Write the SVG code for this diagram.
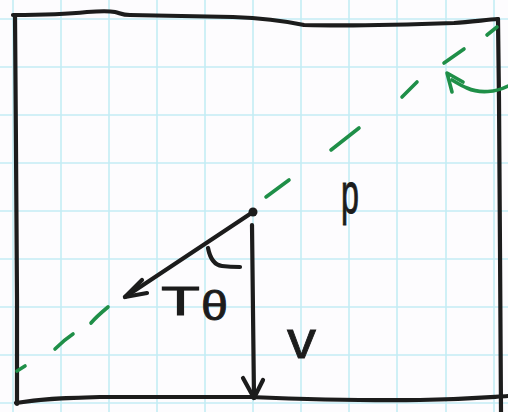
<svg xmlns="http://www.w3.org/2000/svg" width="508" height="412" viewBox="0 0 508 412">
<style>
.grid line{stroke:#c3edf4;stroke-width:1.6}
.ink{fill:none;stroke:#1c1c1c;stroke-width:4.2;stroke-linecap:round;stroke-linejoin:round}
.green{fill:none;stroke:#1f8f48;stroke-width:3.6;stroke-linecap:round;stroke-linejoin:round}
.lbl{font-family:"Liberation Sans","DejaVu Sans",sans-serif;fill:#1c1c1c;stroke:#1c1c1c;stroke-width:0.8}
</style>
<rect width="508" height="412" fill="#fdfcfe"/>
<g id="grid" class="grid">
<line x1="13" y1="0" x2="13" y2="412"/><line x1="61" y1="0" x2="61" y2="412"/><line x1="109" y1="0" x2="109" y2="412"/><line x1="157" y1="0" x2="157" y2="412"/><line x1="205" y1="0" x2="205" y2="412"/><line x1="253" y1="0" x2="253" y2="412"/><line x1="301" y1="0" x2="301" y2="412"/><line x1="349" y1="0" x2="349" y2="412"/><line x1="397" y1="0" x2="397" y2="412"/><line x1="446" y1="0" x2="446" y2="412"/><line x1="494" y1="0" x2="494" y2="412"/>
<line x1="0" y1="19" x2="508" y2="19"/><line x1="0" y1="67" x2="508" y2="67"/><line x1="0" y1="115" x2="508" y2="115"/><line x1="0" y1="163" x2="508" y2="163"/><line x1="0" y1="211" x2="508" y2="211"/><line x1="0" y1="259" x2="508" y2="259"/><line x1="0" y1="307" x2="508" y2="307"/><line x1="0" y1="355" x2="508" y2="355"/><line x1="0" y1="403" x2="508" y2="403"/>
</g>
<g id="frame" class="ink">
<path d="M13,15 C35,15 60,15 87,12 C100,11 110,11 115,12 C120,13 122,15 130,15 L233,17 C260,18 280,20 304,25 C340,26 400,25 454,23 C470,22 485,20 498,19"/>
<path d="M498,19 L499,100 L500,250 L501,412"/>
<path d="M15,15 L16,150 L17,300 L17,404"/>
<path d="M16,403 C40,399 60,398 100,397 L250,397 C300,399 350,401 420,400 C470,399 490,397 508,396"/>
</g>
<g id="dashed-line" class="green">
<path d="M17,371 L25,366"/>
<path d="M55,349 C60,344 67,338 73,334"/>
<path d="M91,323 C96,317 102,312 108,307"/>
<path d="M266,197 L289,180"/>
<path d="M331,150 L359,128"/>
<path d="M402,97 L417,82"/>
<path d="M444,63 L464,49"/>
<path d="M487,35 L497,27"/>
</g>
<g id="green-arrow" class="green">
<path d="M508,86 C496,92 480,94 467,88 C462,86 457,83 452,80"/>
<path d="M452,92 L447,73 L463,82"/>
</g>
<g id="connectors" class="ink">
<path d="M253,212 L125,297"/>
<path d="M142,280 L125,297 L147,293"/>
<path d="M252,225 L254,398"/>
<path d="M243,378 L254,398 L263,380"/>
<path d="M208,248 C210,258 214,265 222,266 C230,267 236,267 240,267"/>
</g>
<circle id="point" cx="253" cy="212" r="4.5" fill="#1c1c1c"/>
<g id="labels">
<text class="lbl" x="161" y="315" font-size="40" textLength="39" lengthAdjust="spacingAndGlyphs">T</text>
<text class="lbl" x="201" y="320" font-size="40" textLength="27" lengthAdjust="spacingAndGlyphs">θ</text>
<text class="lbl" transform="translate(341,213) scale(0.7,1.25)" font-size="46">p</text>
<text class="lbl" x="287" y="358" font-size="54" textLength="29" lengthAdjust="spacingAndGlyphs">v</text>
</g>
</svg>
